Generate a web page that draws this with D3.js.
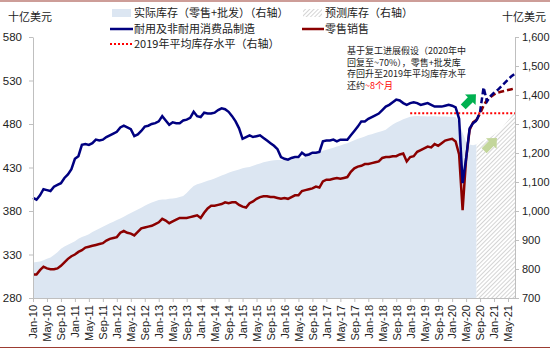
<!DOCTYPE html>
<html lang="zh">
<head>
<meta charset="UTF-8" />
<title>零售与制造库存</title>
<script src="https://cdn.jsdelivr.net/npm/d3@7"></script>
<style>
  body { margin: 0; padding: 0; background: #fff; }
  text { font-family: Arial, "Liberation Sans", "Noto Sans CJK SC", sans-serif; fill: #222; }
  .cn { font-family: "Noto Sans CJK SC", sans-serif; }
  .axis path, .axis line { stroke: #bfbfbf; }
</style>
</head>
<body>
<svg width="550" height="349"></svg>
<script>
// categories: Jan-10 .. Jul-21
var fmt = d3.utcFormat('%b-%y');
var months = d3.utcMonth.range(new Date(Date.UTC(2010, 0, 1)), new Date(Date.UTC(2021, 7, 1))).map(fmt);

// Jan-10 .. Aug-20, left axis
var manufacturing = [
  395, 393, 398, 405, 404, 403, 408, 410, 412, 418, 422, 428,
  440, 443, 456, 457, 456, 458, 462, 461, 462, 465, 467, 469,
  471, 476, 478, 476, 474, 466, 468, 472, 477, 478, 480, 481,
  483, 489, 484, 479, 482, 481, 481, 484, 485, 487, 494, 489,
  488, 493, 492, 492, 493, 496, 498, 497, 494, 489, 483, 475,
  463, 465, 467, 465, 466, 467, 464, 461, 458, 455, 451, 442,
  440, 439, 441, 442, 442, 447, 444, 445, 447, 447, 448, 460,
  461, 461, 462, 460, 462, 462, 462, 467, 472, 477, 483, 483,
  486, 488, 490, 492, 496, 500, 502, 505, 508, 507, 504, 502,
  504, 505, 504, 502, 503, 504, 502, 500, 500, 500, 501, 502,
  501, 499, 486, 412, 440, 475, 481, 484
];
var retail = [
  307, 307, 312, 316, 314, 313, 313, 314, 317, 321, 325, 328,
  330, 333, 335, 338, 339, 340, 341, 342, 343, 346, 348, 349,
  350, 355, 357, 355, 354, 352, 356, 360, 361, 362, 363, 365,
  367, 371, 369, 366, 368, 370, 372, 372, 372, 373, 374, 375,
  372, 378, 383, 386, 386, 387, 388, 390, 389, 390, 390, 387,
  385, 384, 389, 391, 394, 396, 397, 397, 396, 396, 395, 394,
  395, 394, 396, 398, 398, 403, 404, 405, 406, 408, 407, 414,
  416, 416, 417, 418, 417, 418, 419, 425, 429, 431, 432, 434,
  434, 435, 436, 437, 441, 442, 442, 443, 443, 445, 446, 437,
  442, 443, 448, 450, 452, 454, 453, 457, 455, 458, 461, 462,
  463, 460, 445, 381, 440, 473, 482, 485
];
// Jan-10 .. Aug-20, right axis
var inventory = [
  822, 824, 826, 830, 835, 840, 848, 858, 870, 878, 884, 890,
  896, 904, 910, 915, 920, 928, 934, 940, 946, 952, 958, 963,
  969, 974, 980, 987, 993, 999, 1005, 1011, 1018, 1024, 1029, 1034,
  1038, 1040, 1040, 1042, 1043, 1045, 1048, 1052, 1062, 1075, 1086, 1092,
  1096, 1100, 1104, 1108, 1112, 1117, 1122, 1127, 1132, 1136, 1140, 1143,
  1147, 1150, 1152, 1156, 1160, 1164, 1168, 1171, 1173, 1175, 1176, 1176,
  1176, 1177, 1178, 1180, 1181, 1182, 1186, 1191, 1196, 1201, 1205, 1208,
  1211, 1215, 1218, 1222, 1226, 1230, 1234, 1239, 1244, 1249, 1253, 1257,
  1262, 1265, 1269, 1272, 1276, 1280, 1290, 1298, 1305, 1310, 1316, 1321,
  1325, 1327, 1328, 1327, 1327, 1326, 1327, 1327, 1326, 1326, 1326, 1325,
  1325, 1323, 1305, 1270, 1240, 1229, 1227, 1230
];
// Aug-20 .. Jul-21
var inventoryForecast = [1230, 1238, 1242, 1248, 1255, 1263, 1272, 1283, 1297, 1312, 1328, 1345];
var manufacturingForecast = [484, 494, 522, 506, 512, 516, 519, 523, 527, 531, 535, 538];
var retailForecast = [485, 492, 501, 508, 511, 514, 516, 517, 518, 519, 520, 521];
var avg2019 = 1337;
var avgRange = ['Jan-19', 'Jul-21'];

var leftTicks = [280, 330, 380, 430, 480, 530, 580];
var rightTicks = [700, 800, 900, 1000, 1100, 1200, 1300, 1400, 1500, 1600];

var note = ['基于复工进展假设（2020年中', '回复至~70%），零售+批发库', '存回升至2019年平均库存水平'];

var svg = d3.select('svg');
var plotL = 33, plotR = 515, plotT = 37, plotB = 298;

var x = d3.scalePoint().domain(months).range([plotL, plotR]);
var yL = d3.scaleLinear().domain([280, 580]).range([plotB, plotT]);
var yR = d3.scaleLinear().domain([700, 1600]).range([plotB, plotT]);

var defs = svg.append('defs');
var pat = defs.append('pattern')
    .attr('id', 'hatch')
    .attr('patternUnits', 'userSpaceOnUse')
    .attr('width', 3).attr('height', 3)
    .attr('patternTransform', 'rotate(45)');
pat.append('rect').attr('width', 3).attr('height', 3).attr('fill', '#fff');
pat.append('line').attr('x1', 0).attr('y1', 0).attr('x2', 0).attr('y2', 3)
    .attr('stroke', '#b8b8b8').attr('stroke-width', 1.2);

// frame lines
svg.append('line').attr('x1', 0).attr('x2', 550).attr('y1', 1).attr('y2', 1)
    .attr('stroke', '#9c3c32').attr('stroke-width', 1.2);
svg.append('line').attr('x1', 0).attr('x2', 550).attr('y1', 347.5).attr('y2', 347.5)
    .attr('stroke', '#9c3c32').attr('stroke-width', 1.2);

// areas
var area = d3.area()
    .x(function(d) { return x(d.m); })
    .y0(plotB)
    .y1(function(d) { return yR(d.v); });

function pts(arr, start) {
    return arr.map(function(v, i) { return { m: months[start + i], v: v }; });
}

svg.append('path').datum(pts(inventory, 0)).attr('d', area).attr('fill', '#dce6f2');
svg.append('path').datum(pts(inventoryForecast, 127)).attr('d', area).attr('fill', 'url(#hatch)');

// 2019 average
svg.append('line')
    .attr('x1', x(avgRange[0])).attr('x2', x(avgRange[1]))
    .attr('y1', yR(avg2019)).attr('y2', yR(avg2019))
    .attr('stroke', '#ff0000').attr('stroke-width', 2)
    .attr('stroke-dasharray', '2,2');

// lines
var line = d3.line()
    .x(function(d) { return x(d.m); })
    .y(function(d) { return yL(d.v); });

svg.append('path').datum(pts(retail, 0)).attr('d', line)
    .attr('fill', 'none').attr('stroke', '#8b0000').attr('stroke-width', 2.5);
svg.append('path').datum(pts(manufacturing, 0)).attr('d', line)
    .attr('fill', 'none').attr('stroke', '#000080').attr('stroke-width', 2.5);
svg.append('path').datum(pts(retailForecast, 127)).attr('d', line)
    .attr('fill', 'none').attr('stroke', '#8b0000').attr('stroke-width', 2.5)
    .attr('stroke-dasharray', '6,3');
svg.append('path').datum(pts(manufacturingForecast, 127)).attr('d', line)
    .attr('fill', 'none').attr('stroke', '#000080').attr('stroke-width', 2.5)
    .attr('stroke-dasharray', '6,3');

// axes
var gx = svg.append('g').attr('class', 'axis')
    .attr('transform', 'translate(0,' + plotB + ')')
    .call(d3.axisBottom(x)
        .tickValues(months.filter(function(d, i) { return i % 4 === 0; }))
        .tickSize(4).tickSizeOuter(0));
gx.selectAll('text')
    .attr('transform', 'rotate(-90)')
    .attr('x', -7).attr('y', 0).attr('dy', '0.35em')
    .attr('text-anchor', 'end')
    .style('font-size', '11px');

var gl = svg.append('g').attr('class', 'axis')
    .attr('transform', 'translate(' + plotL + ',0)')
    .call(d3.axisLeft(yL).tickValues(leftTicks).tickSize(4).tickSizeOuter(0).tickPadding(7));
gl.selectAll('text').style('font-size', '11.5px');

var gr = svg.append('g').attr('class', 'axis')
    .attr('transform', 'translate(' + plotR + ',0)')
    .call(d3.axisRight(yR).tickValues(rightTicks).tickFormat(d3.format(','))
        .tickSize(4).tickSizeOuter(0).tickPadding(3));
gr.selectAll('text').style('font-size', '11px');
svg.selectAll('.axis text').attr('fill', '#222');

// unit labels
svg.append('text').attr('class', 'cn').attr('x', 8).attr('y', 21)
    .style('font-size', '11px').text('十亿美元');
svg.append('text').attr('class', 'cn').attr('x', 502).attr('y', 21)
    .style('font-size', '11px').text('十亿美元');

// legend
var lg = svg.append('g').style('font-size', '11px');
lg.append('rect').attr('x', 112).attr('y', 9).attr('width', 19).attr('height', 8).attr('fill', '#dce6f2');
lg.append('text').attr('class', 'cn').attr('x', 134).attr('y', 17).text('实际库存（零售+批发）（右轴）');
lg.append('rect').attr('x', 303).attr('y', 9).attr('width', 19).attr('height', 8).attr('fill', 'url(#hatch)');
lg.append('text').attr('class', 'cn').attr('x', 325).attr('y', 17).text('预测库存（右轴）');
lg.append('line').attr('x1', 110).attr('x2', 133).attr('y1', 29).attr('y2', 29)
    .attr('stroke', '#000080').attr('stroke-width', 2.5);
lg.append('text').attr('class', 'cn').attr('x', 134).attr('y', 33).text('耐用及非耐用消费品制造');
lg.append('line').attr('x1', 302).attr('x2', 324).attr('y1', 29).attr('y2', 29)
    .attr('stroke', '#8b0000').attr('stroke-width', 2.5);
lg.append('text').attr('class', 'cn').attr('x', 325).attr('y', 33).text('零售销售');
lg.append('line').attr('x1', 110).attr('x2', 132).attr('y1', 44).attr('y2', 44)
    .attr('stroke', '#ff0000').attr('stroke-width', 2).attr('stroke-dasharray', '2,2');
lg.append('text').attr('class', 'cn').attr('x', 134).attr('y', 48).text('2019年平均库存水平（右轴）');

// annotation
var ann = svg.append('g').style('font-size', '9px');
note.forEach(function(t, i) {
    ann.append('text').attr('class', 'cn').attr('x', 347).attr('y', 54 + i * 11.7).text(t);
});
var last = ann.append('text').attr('class', 'cn').attr('x', 347).attr('y', 54 + 3 * 11.7);
last.append('tspan').text('还约');
last.append('tspan').style('fill', '#ff0000').text('~8个月');

// arrows
function arrow(cx, cy, color) {
    var p = 'M-9,-3.5 L1,-3.5 L1,-7.5 L9,0 L1,7.5 L1,3.5 L-9,3.5 Z';
    svg.append('path').attr('d', p).attr('fill', color)
        .attr('transform', 'translate(' + cx + ',' + cy + ') rotate(-45)');
}
arrow(x('Jun-20'), yL(507), '#00b050');
arrow(x('Dec-20'), yR(1230), '#c3d69b');
</script>
</body>
</html>
